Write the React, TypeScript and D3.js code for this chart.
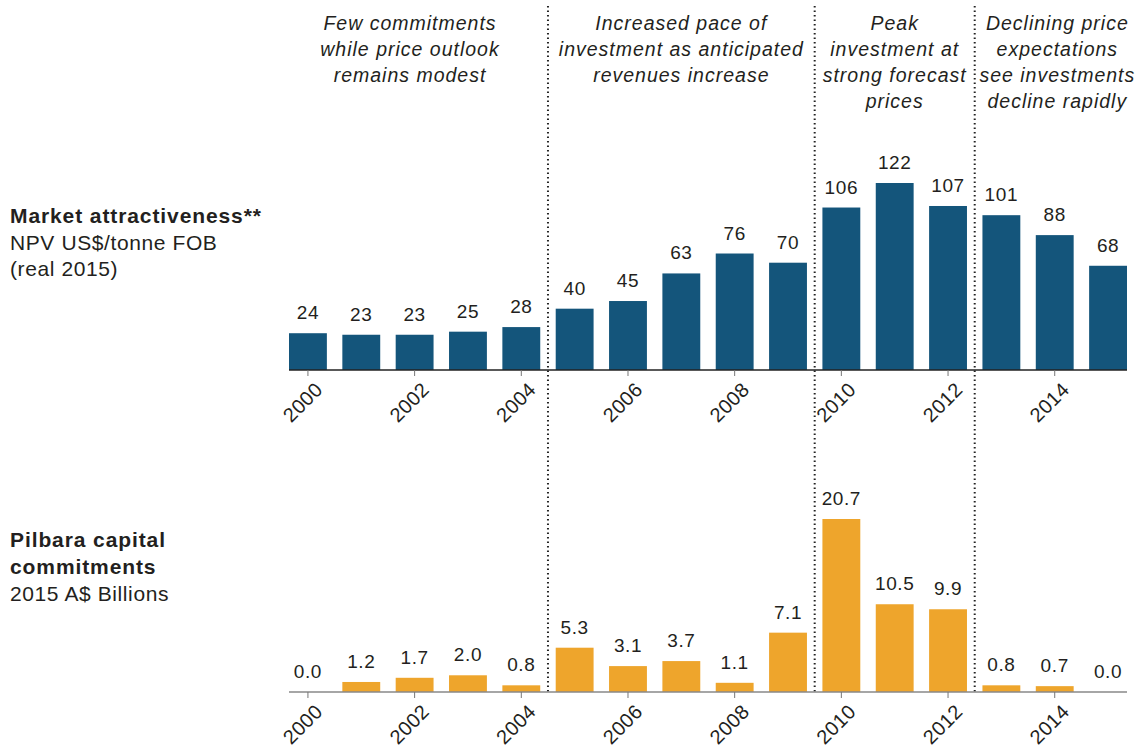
import React from "react";
import * as d3 from "d3";

const years = [2000, 2001, 2002, 2003, 2004, 2005, 2006, 2007, 2008, 2009, 2010, 2011, 2012, 2013, 2014, 2015];
const attractiveness = [24, 23, 23, 25, 28, 40, 45, 63, 76, 70, 106, 122, 107, 101, 88, 68];
const commitments = [0.0, 1.2, 1.7, 2.0, 0.8, 5.3, 3.1, 3.7, 1.1, 7.1, 20.7, 10.5, 9.9, 0.8, 0.7, 0.0];
const tickYears = [2000, 2002, 2004, 2006, 2008, 2010, 2012, 2014];
const dividerAfter = [2004, 2009, 2012];
const phases = [
  { from: 2000, to: 2004, lines: ["Few commitments", "while price outlook", "remains modest"] },
  { from: 2005, to: 2009, lines: ["Increased pace of", "investment as anticipated", "revenues increase"] },
  { from: 2010, to: 2012, lines: ["Peak", "investment at", "strong forecast", "prices"] },
  { from: 2013, to: 2015, lines: ["Declining price", "expectations", "see investments", "decline rapidly"] },
];
const topTitle = ["Market attractiveness**"];
const topSub = ["NPV US$/tonne FOB", "(real 2015)"];
const botTitle = ["Pilbara capital", "commitments"];
const botSub = ["2015 A$ Billions"];

const FONT = "'Liberation Sans', Arial, Helvetica, sans-serif";
const BLUE = "#14557b";
const ORANGE = "#eea52c";
const TEXT = "#231f20";

export default function App() {
  const W = 1143, H = 751;
  const x = d3.scaleBand<number>().domain(years).range([289, 1127]).paddingInner(0.29).paddingOuter(0);
  const bw = x.bandwidth();
  const yTop = d3.scaleLinear().domain([0, 122]).range([370, 183]);
  const yBot = d3.scaleLinear().domain([0, 20.7]).range([692, 519]);
  const cx = (yr: number) => (x(yr) as number) + bw / 2;

  const panel = (
    data: number[],
    y: d3.ScaleLinear<number, number>,
    color: string,
    fmt: (v: number) => string,
    axisColor: string,
    key: string
  ) => {
    const base = y(0);
    return (
      <g key={key}>
        {years.map((yr, i) => (
          <rect key={yr} x={x(yr)} y={y(data[i])} width={bw} height={base - y(data[i])} fill={color} />
        ))}
        {years.map((yr, i) => (
          <text key={"l" + yr} x={cx(yr)} y={y(data[i]) - 14} textAnchor="middle" fontSize={19} letterSpacing={0.6} fill={TEXT}>
            {fmt(data[i])}
          </text>
        ))}
        <line x1={289} x2={1127} y1={base} y2={base} stroke={axisColor} strokeWidth={1.5} />
        {tickYears.map((yr) => (
          <g key={"t" + yr}>
            <line x1={cx(yr)} x2={cx(yr)} y1={base} y2={base + 6} stroke="#777" strokeWidth={1} />
            <text
              transform={`translate(${cx(yr) + 6},${base + 11}) rotate(-45)`}
              textAnchor="end"
              dy="0.7em"
              fontSize={20}
              letterSpacing={0.4}
              fill={TEXT}
            >
              {yr}
            </text>
          </g>
        ))}
      </g>
    );
  };

  return (
    <svg width={W} height={H} style={{ position: "absolute", left: 0, top: 0, background: "#fff" }} fontFamily={FONT}>
      {dividerAfter.map((yr) => {
        const xr = (x(yr) as number) + bw;
        const xn = x(yr + 1) as number;
        const xm = (xr + xn) / 2;
        return (
          <line key={"d" + yr} x1={xm} x2={xm} y1={6} y2={692} stroke="#222" strokeWidth={2} strokeDasharray="1.5,3" />
        );
      })}
      {phases.map((p, pi) => {
        const left = pi === 0 ? (x(p.from) as number) : ((x(p.from - 1) as number) + bw + (x(p.from) as number)) / 2;
        const right = pi === phases.length - 1 ? 1140 : ((x(p.to) as number) + bw + (x(p.to + 1) as number)) / 2;
        const c = pi === 0 ? 410 : (left + right) / 2;
        return (
          <text key={"p" + pi} x={c} textAnchor="middle" fontSize={19.5} letterSpacing={1} fontStyle="italic" fill={TEXT}>
            {p.lines.map((ln, li) => (
              <tspan key={li} x={c} y={30 + li * 26}>
                {ln}
              </tspan>
            ))}
          </text>
        );
      })}
      {panel(attractiveness, yTop, BLUE, (v) => String(v), "#222", "top")}
      {panel(commitments, yBot, ORANGE, (v) => v.toFixed(1), "#888", "bot")}
      <text fontSize={21} letterSpacing={0.6} fill={TEXT}>
        {topTitle.map((t, i) => (
          <tspan key={t} x={10} y={223 + i * 26.5} fontWeight="bold" letterSpacing={0.9}>{t}</tspan>
        ))}
        {topSub.map((t, i) => (
          <tspan key={t} x={10} y={223 + (topTitle.length + i) * 26.5}>{t}</tspan>
        ))}
      </text>
      <text fontSize={21} letterSpacing={0.6} fill={TEXT}>
        {botTitle.map((t, i) => (
          <tspan key={t} x={10} y={547 + i * 27} fontWeight="bold" letterSpacing={0.9}>{t}</tspan>
        ))}
        {botSub.map((t, i) => (
          <tspan key={t} x={10} y={547 + (botTitle.length + i) * 27}>{t}</tspan>
        ))}
      </text>
    </svg>
  );
}
